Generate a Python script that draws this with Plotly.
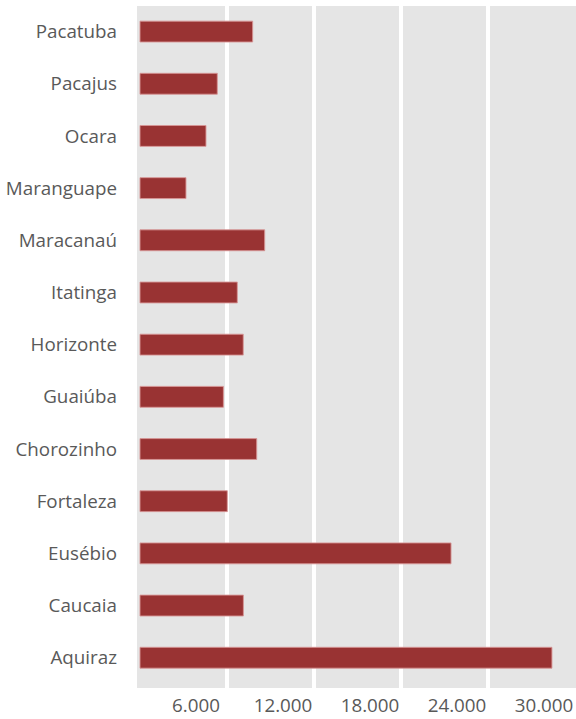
import plotly.graph_objects as go

municipios = ["Aquiraz", "Caucaia", "Eusébio", "Fortaleza", "Chorozinho", "Guaiúba",
              "Horizonte", "Itatinga", "Maracanaú", "Maranguape", "Ocara", "Pacajus", "Pacatuba"]
valores = [28410, 7130, 21450, 6020, 8050, 5750, 7120, 6710, 8600, 3170, 4550, 5330, 7770]
tick_vals = [6000, 12000, 18000, 24000, 30000]
tick_text = ["6.000", "12.000", "18.000", "24.000", "30.000"]

fig = go.Figure(go.Bar(
    x=valores, y=municipios, orientation="h", width=0.4,
    marker=dict(color="#993333", line=dict(color="rgba(215,150,150,0.9)", width=1)),
))

fig.update_layout(
    width=576, height=719,
    margin=dict(l=137, r=0, t=6, b=31),
    plot_bgcolor="#e5e5e5", paper_bgcolor="white",
    font=dict(family="Open Sans", size=18.8, color="#595959"),
    showlegend=False,
    bargap=0.6,
)
fig.update_xaxes(range=[-207, 30069], tickvals=tick_vals, ticktext=tick_text,
                 showgrid=True, gridcolor="white", gridwidth=4, zeroline=False,
                 ticks="", ticklabelshift=-31, ticklabelstandoff=4, showline=False)
fig.update_yaxes(categoryorder="array", categoryarray=municipios, showgrid=False,
                 ticks="", ticklabelstandoff=19, range=[-0.58, 12.49], zeroline=False)

fig.write_html("out.html")
